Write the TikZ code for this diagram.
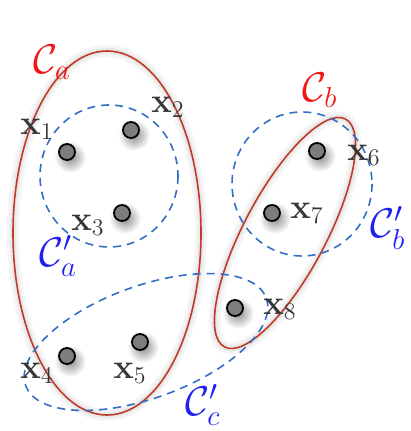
\documentclass[tikz,border=0pt]{standalone}
\usepackage{amsmath}
\definecolor{ellred}{RGB}{192,58,42}
\definecolor{dashblue}{RGB}{52,110,196}
\definecolor{labred}{RGB}{242,22,22}
\definecolor{labblue}{RGB}{32,32,242}
\definecolor{ptgray}{RGB}{125,125,125}
\definecolor{txtgray}{RGB}{55,55,55}
\begin{document}
\begin{tikzpicture}[x=0.5pt,y=-0.5pt,
  cluster/.style={draw=ellred,line width=0.8pt,
    preaction={draw=black,opacity=0.04,line width=6pt},
    preaction={draw=black,opacity=0.05,line width=3pt}},
  softcluster/.style={draw=dashblue,line width=0.8pt,dash pattern=on 4pt off 3pt},
  pt/.style={circle,draw=black,fill=ptgray,line width=0.9pt,minimum size=8pt,inner sep=0pt},
  ptshadow/.style={inner color=black!45,outer color=white},
  ptlabel/.style={text=txtgray,font=\fontsize{17}{20}\selectfont,inner sep=0pt},
  hardlabel/.style={text=labred,font=\fontsize{20}{24}\selectfont,inner sep=0pt},
  softlabel/.style={text=labblue,font=\fontsize{20}{24}\selectfont,inner sep=0pt}]
\useasboundingbox (0,0) rectangle (410,431);
% shadows of points
\foreach \p in {(67,152),(131,130),(122,213),(67,356),(140,342),(317,151),(272,213),(235,308)}{
  \shade[ptshadow] \p ++(3,5) circle (16);
}
% hard clusters
\draw[cluster] (107,233) ellipse [x radius=94, y radius=182];
\draw[cluster, rotate around={62:(285,233)}] (285,233) ellipse [x radius=129, y radius=41];
% soft clusters
\draw[softcluster] (109,176) ellipse [x radius=69, y radius=71];
\draw[softcluster] (302,184) ellipse [x radius=70, y radius=72];
\draw[softcluster, rotate around={20:(146,342)}] (146,342) ellipse [x radius=128, y radius=56];
% points
\node[pt] (p1) at (67,152) {};
\node[pt] (p2) at (131,130) {};
\node[pt] (p3) at (122,213) {};
\node[pt] (p4) at (67,356) {};
\node[pt] (p5) at (140,342) {};
\node[pt] (p6) at (317,151) {};
\node[pt] (p7) at (272,213) {};
\node[pt] (p8) at (235,308) {};
% point labels
\node[ptlabel] (l1) at (37,129) {$\mathbf{x}_1$};
\node[ptlabel] (l2) at (168,107) {$\mathbf{x}_2$};
\node[ptlabel] (l3) at (88,225) {$\mathbf{x}_3$};
\node[ptlabel] (l4) at (37,373) {$\mathbf{x}_4$};
\node[ptlabel] (l5) at (130,373) {$\mathbf{x}_5$};
\node[ptlabel] (l6) at (364,155) {$\mathbf{x}_6$};
\node[ptlabel] (l7) at (307,213) {$\mathbf{x}_7$};
\node[ptlabel] (l8) at (280,309) {$\mathbf{x}_8$};
% cluster labels
\node[hardlabel] (ca) at (52,62) {$\mathcal{C}_a$};
\node[hardlabel] (cb) at (320,90) {$\mathcal{C}_b$};
\node[softlabel] (sa) at (58,256) {$\mathcal{C}'_a$};
\node[softlabel] (sb) at (388,228) {$\mathcal{C}'_b$};
\node[softlabel] (sc) at (203,405) {$\mathcal{C}'_c$};
\end{tikzpicture}
\end{document}
